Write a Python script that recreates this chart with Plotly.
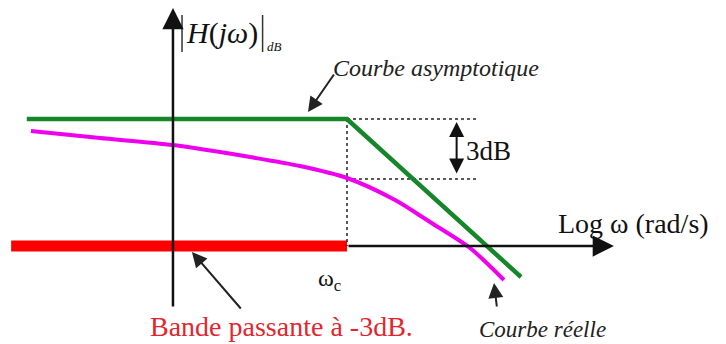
import plotly.graph_objects as go

# Conceptual units: x = log(omega) position (omega_c at 1), y = gain in dB (asymptote at 0)
OMEGA_C = 1.0
AXIS_DB = -6.35          # level where the horizontal axis is drawn
CUTOFF_DB = -3.0

asym_x = [-0.84, 1.0, 2.0]
asym_y = [0.0, 0.0, -7.9]

real_x = [-0.816, -0.42, 0.0, 0.443, 0.73, 1.0, 1.276, 1.477, 1.707, 1.902]
real_y = [-0.6, -0.95, -1.3, -1.9, -2.35, -2.95, -4.05, -5.15, -6.45, -8.05]

band_x = [-0.93, 1.0]          # pass band (red bar)
band_y = [AXIS_DB, AXIS_DB]

x_axis_ends = [OMEGA_C, 2.534]
y_axis_ends = [-9.45, 5.55]
guide_end_x = 1.75

SERIF = "Liberation Serif, Times New Roman, serif"

fig = go.Figure()

# pass band
fig.add_trace(go.Scatter(x=band_x, y=band_y, mode="lines",
                         line=dict(color="#ff0000", width=11), hoverinfo="skip"))
# dotted guides
for gx, gy in (([OMEGA_C, guide_end_x], [0, 0]),
               ([OMEGA_C, guide_end_x], [CUTOFF_DB, CUTOFF_DB]),
               ([OMEGA_C, OMEGA_C], [0, AXIS_DB])):
    fig.add_trace(go.Scatter(x=gx, y=gy, mode="lines",
                             line=dict(color="#222222", width=1.5, dash="dot"), hoverinfo="skip"))
# asymptote
fig.add_trace(go.Scatter(x=asym_x, y=asym_y, mode="lines",
                         line=dict(color="#16862a", width=4.5), hoverinfo="skip"))
# real curve
fig.add_trace(go.Scatter(x=real_x, y=real_y, mode="lines", line_shape="spline",
                         line=dict(color="#ee00ee", width=4, smoothing=0.8), hoverinfo="skip"))

ann = []
# axes
ann.append(dict(x=x_axis_ends[1], y=AXIS_DB, ax=x_axis_ends[0], ay=AXIS_DB,
                xref="x", yref="y", axref="x", ayref="y", showarrow=True,
                arrowhead=2, arrowsize=1.7, arrowwidth=2.5, arrowcolor="#111111", text=""))
ann.append(dict(x=0, y=y_axis_ends[1], ax=0, ay=y_axis_ends[0],
                xref="x", yref="y", axref="x", ayref="y", showarrow=True,
                arrowhead=2, arrowsize=1.7, arrowwidth=2.5, arrowcolor="#111111", text=""))
# 3 dB double arrow
ann.append(dict(x=1.63, y=-0.15, ax=1.63, ay=-2.8,
                xref="x", yref="y", axref="x", ayref="y", showarrow=True,
                arrowhead=2, startarrowhead=2, arrowside="end+start",
                arrowsize=1.5, startarrowsize=1.5, arrowwidth=2, arrowcolor="#111111", text=""))
# pointer arrows
ann.append(dict(x=0.776, y=0.35, ax=0.931, ay=2.3, xref="x", yref="y", axref="x", ayref="y",
                showarrow=True, arrowhead=2, arrowsize=1.5, arrowwidth=2, arrowcolor="#222222", text=""))
ann.append(dict(x=0.109, y=-6.65, ax=0.397, ay=-9.55, xref="x", yref="y", axref="x", ayref="y",
                showarrow=True, arrowhead=2, arrowsize=1.5, arrowwidth=2, arrowcolor="#222222", text=""))
ann.append(dict(x=1.845, y=-8.2, ax=1.862, ay=-9.45, xref="x", yref="y", axref="x", ayref="y",
                showarrow=True, arrowhead=2, arrowsize=1.5, arrowwidth=2, arrowcolor="#222222", text=""))

def label(x, y, text, size, color="#111111", xanchor="center", italic=False):
    t = f"<i>{text}</i>" if italic else text
    return dict(x=x, y=y, xref="x", yref="y", text=t, showarrow=False,
                xanchor=xanchor, yanchor="middle",
                font=dict(family=SERIF, size=size, color=color))

ann.append(label(1.514, 2.55, "Courbe asymptotique", 24, "#222222", italic=True))
ann.append(label(1.816, -1.6, "3dB", 27))
ann.append(label(2.644, -5.2, "Log ω (rad/s)", 28))
ann.append(label(0.902, -8.05, "ω<sub>c</sub>", 24))
ann.append(label(0.621, -10.35, "Bande passante à -3dB.", 28, "#e3262e"))
ann.append(label(2.121, -10.5, "Courbe réelle", 23, "#222222", italic=True))
ann.append(label(0.065, 4.3, "<i>H</i>(<i>jω</i>)", 30, xanchor="left"))
ann.append(label(0.53, 3.65, "<i>dB</i>", 13, xanchor="left"))

shapes = [
    dict(type="line", x0=0.052, x1=0.052, y0=3.35, y1=5.2, xref="x", yref="y",
         line=dict(color="#333333", width=1.5)),
    dict(type="line", x0=0.515, x1=0.515, y0=3.35, y1=5.2, xref="x", yref="y",
         line=dict(color="#333333", width=1.5)),
]

fig.update_layout(
    width=726, height=344,
    margin=dict(l=0, r=0, t=0, b=0),
    paper_bgcolor="white", plot_bgcolor="white",
    showlegend=False,
    xaxis=dict(range=[-0.994, 3.178], visible=False, fixedrange=True),
    yaxis=dict(range=[-11.25, 5.95], visible=False, fixedrange=True),
    annotations=ann, shapes=shapes,
)

fig.write_html("out.html", config={"displayModeBar": False},
               post_script="document.body.style.margin='0';")
